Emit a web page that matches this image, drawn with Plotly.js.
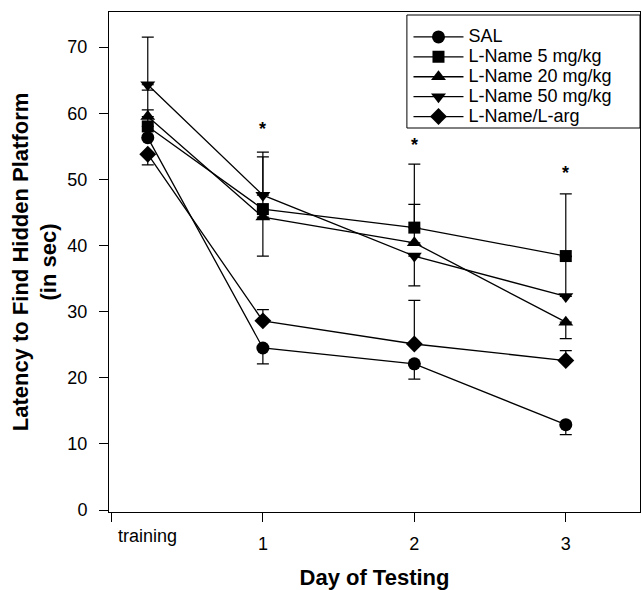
<!DOCTYPE html>
<html>
<head>
<meta charset="utf-8">
<script src="https://cdn.plot.ly/plotly-3.0.1.min.js"></script>
<style>html,body{margin:0;padding:0;background:#fff;}#chart{width:641px;height:590px;}</style>
</head>
<body>
<div id="chart"></div>
<script>
// x positions: training, day 1, day 2, day 3
const days = [0.24, 1, 2, 3];
const tickVals = [0, 1, 2, 3];
const tickText = ["", "1", "2", "3"];

const seriesNames = ["SAL", "L-Name 5 mg/kg", "L-Name 20 mg/kg", "L-Name 50 mg/kg", "L-Name/L-arg"];
const sal      = [56.3, 24.5, 22.1, 12.9];
const ln5      = [58.0, 45.5, 42.7, 38.4];
const ln20     = [59.5, 44.3, 40.4, 28.4];
const ln50     = [64.3, 47.6, 38.4, 32.3];
const lnArg    = [53.8, 28.6, 25.1, 22.6];

const salPlus   = [0, 0, 0, 0];
const salMinus  = [0, 2.4, 2.3, 1.5];
const ln5Plus   = [2.5, 7.9, 9.6, 9.4];
const ln5Minus  = [0, 0, 0, 0];
const ln20Plus  = [4.0, 0, 5.8, 0];
const ln20Minus = [0, 5.9, 0, 2.5];
const ln50Plus  = [7.2, 6.5, 0, 6.0];
const ln50Minus = [0, 0, 4.5, 0];
const argPlus   = [0, 1.7, 6.6, 1.5];
const argMinus  = [1.6, 0, 0, 0];

const starDays = [1, 2, 3];
const starY = [57.6, 55.2, 51.0];

const symbols = ["circle", "square", "triangle-up", "triangle-down", "diamond"];
const sizes = [13, 12, 13, 13, 13];
const values = [sal, ln5, ln20, ln50, lnArg];
const plus = [salPlus, ln5Plus, ln20Plus, ln50Plus, argPlus];
const minus = [salMinus, ln5Minus, ln20Minus, ln50Minus, argMinus];

const FONT = "Liberation Sans, Arial, sans-serif";

const traces = seriesNames.map((name, i) => ({
  type: "scatter",
  mode: "lines+markers",
  name: '<span style="font-size:18px">' + name + '</span>',
  x: days,
  y: values[i],
  line: {color: "#000", width: 1.3},
  marker: {symbol: symbols[i], size: sizes[i], color: "#000"},
  error_y: {type: "data", symmetric: false, array: plus[i], arrayminus: minus[i],
            color: "#000", thickness: 1.2, width: 6}
}));

const annotations = starDays.map((d, i) => ({
  x: d, y: starY[i], xref: "x", yref: "y", text: "<b>*</b>", showarrow: false,
  font: {family: FONT, size: 18, color: "#000"}
}));
annotations.push({
  x: days[0], y: -0.024, xref: "x", yref: "paper", yanchor: "top", text: "training", showarrow: false,
  font: {family: FONT, size: 18, color: "#000"}
});

const layout = {
  width: 641, height: 590,
  margin: {l: 109, r: 1, t: 12, b: 78},
  paper_bgcolor: "#fff", plot_bgcolor: "#fff",
  font: {family: FONT, size: 18, color: "#000"},
  showlegend: true,
  legend: {
    x: 0.564, y: 0.98, xanchor: "left", yanchor: "top",
    borderwidth: 0, bgcolor: "rgba(255,255,255,0)",
    font: {size: 13}, itemwidth: 50, tracegroupgap: 0
  },
  shapes: [{
    type: "rect", xref: "paper", yref: "paper", x0: 0.561, x1: 1.0, y0: 0.768, y1: 0.994,
    line: {color: "#000", width: 1}, fillcolor: "#fff", layer: "below"
  }],
  xaxis: {
    range: [-0.016, 3.49], tickmode: "array", tickvals: tickVals, ticktext: tickText,
    showgrid: false, zeroline: false, showline: true, linecolor: "#000", linewidth: 1,
    mirror: true, ticks: "outside", ticklen: 9, tickcolor: "#000", ticklabelstandoff: 6,
    title: {text: "<b>Day of Testing</b>", font: {size: 22}, standoff: 17}
  },
  yaxis: {
    range: [-0.3, 75.3], tickvals: [0, 10, 20, 30, 40, 50, 60, 70],
    showgrid: false, zeroline: false, showline: true, linecolor: "#000", linewidth: 1,
    mirror: true, ticks: "outside", ticklen: 9, tickcolor: "#000", ticklabelstandoff: 8,
    title: {text: "<b>Latency to Find Hidden Platform<br>(in sec)</b>", font: {size: 22}, standoff: 4}
  },
  annotations: annotations
};

Plotly.newPlot("chart", traces, layout, {displayModeBar: false, staticPlot: true});
</script>
</body>
</html>
